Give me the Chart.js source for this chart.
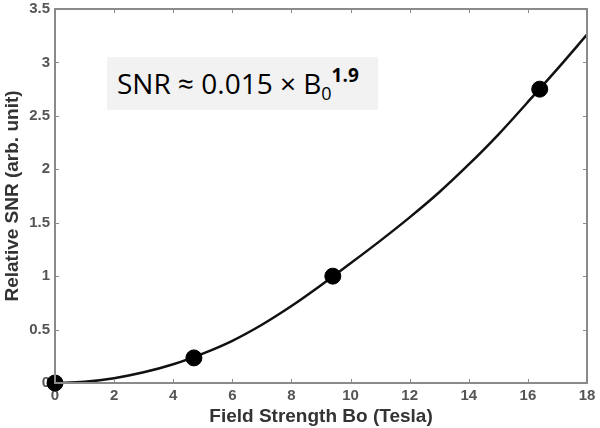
<!DOCTYPE html>
<html>
<head>
<meta charset="utf-8">
<script src="https://cdn.jsdelivr.net/npm/chart.js@4/dist/chart.umd.min.js"></script>
<style>
    html, body { margin: 0; padding: 0; background: #fff; }
    #wrap { position: relative; width: 600px; height: 428px; }
    #formula {
        position: absolute;
        left: 107px; top: 57px;
        width: 271px; height: 53px;
        background: #f2f2f2;
        font-family: "Open Sans", sans-serif;
        font-size: 28px;
        color: #000;
        line-height: 53px;
        padding-left: 10px;
        box-sizing: border-box;
        white-space: nowrap;
    }
    #formula sub { font-size: 18px; vertical-align: -6px; line-height: 0; }
    #formula sup { font-size: 19px; font-weight: bold; vertical-align: 12px; line-height: 0; }
</style>
</head>
<body>
<div id="wrap">
    <canvas id="chart" width="600" height="428"></canvas>
    <div id="formula">SNR ≈ 0.015 × B<sub>0</sub><sup>1.9</sup></div>
</div>
<script>
// fitted curve
const curveField = [0, 1, 2, 3, 4, 5, 6, 7, 8, 9, 10, 11, 12, 13, 14, 15, 16, 17, 18];
const curveSnr = [0, 0.012, 0.045, 0.10, 0.175, 0.275, 0.395, 0.545, 0.72, 0.915, 1.12, 1.33, 1.55, 1.785, 2.045, 2.325, 2.63, 2.94, 3.26];

// measured points
const measuredField = [0, 4.7, 9.4, 16.4];
const measuredSnr = [0, 0.235, 1.0, 2.75];

const axisColor = '#8a8a8a';
const labelColor = '#555';
const labelFont = { family: 'Liberation Sans, Arial', size: 15, weight: 'bold' };
const titleFont = { family: 'Liberation Sans, Arial', size: 19, weight: 'bold' };

// box round the plot with small inward ticks on all four sides
const frameTicks = {
    id: 'frameTicks',
    afterDatasetsDraw(chart) {
        const { ctx, chartArea: a, scales } = chart;
        ctx.save();
        ctx.strokeStyle = axisColor;
        ctx.lineWidth = 2;
        ctx.strokeRect(a.left, a.top, a.right - a.left, a.bottom - a.top);
        ctx.lineWidth = 1;
        const len = 4;
        scales.x.ticks.forEach(t => {
            const px = Math.round(scales.x.getPixelForValue(t.value)) + 0.5;
            ctx.beginPath();
            ctx.moveTo(px, a.bottom); ctx.lineTo(px, a.bottom - len);
            ctx.moveTo(px, a.top); ctx.lineTo(px, a.top + len);
            ctx.stroke();
        });
        scales.y.ticks.forEach(t => {
            const py = Math.round(scales.y.getPixelForValue(t.value)) + 0.5;
            ctx.beginPath();
            ctx.moveTo(a.left, py); ctx.lineTo(a.left + len, py);
            ctx.moveTo(a.right, py); ctx.lineTo(a.right - len, py);
            ctx.stroke();
        });
        ctx.restore();
    }
};

const ctx = document.getElementById('chart').getContext('2d');
new Chart(ctx, {
    type: 'scatter',
    data: {
        datasets: [
            {
                label: 'Measured',
                data: measuredField.map((x, i) => ({ x: x, y: measuredSnr[i] })),
                backgroundColor: '#000',
                borderColor: '#000',
                pointRadius: 8,
                clip: false,
                order: 0
            },
            {
                label: 'Fit',
                data: curveField.map((x, i) => ({ x: x, y: curveSnr[i] })),
                showLine: true,
                borderColor: '#111',
                borderWidth: 2.5,
                pointRadius: 0,
                cubicInterpolationMode: 'monotone',
                order: 1
            }
        ]
    },
    options: {
        responsive: false,
        animation: false,
        layout: { padding: { top: 8, right: 13, left: 0, bottom: 0 } },
        plugins: {
            legend: { display: false },
            tooltip: { enabled: false }
        },
        scales: {
            x: {
                type: 'linear',
                min: 0,
                max: 18,
                afterFit: s => { s.height = 45; s.paddingLeft = 0; s.paddingRight = 0; },
                grid: { drawOnChartArea: false, drawTicks: false },
                border: { display: false },
                ticks: {
                    stepSize: 2,
                    padding: 4,
                    color: labelColor,
                    font: labelFont
                },
                title: {
                    display: true,
                    text: 'Field Strength Bo (Tesla)',
                    color: '#333',
                    padding: { top: 0, bottom: 0 },
                    font: titleFont
                }
            },
            y: {
                min: 0,
                max: 3.5,
                afterFit: s => { s.width = 55; s.paddingTop = 0; s.paddingBottom = 0; },
                grid: { drawOnChartArea: false, drawTicks: false },
                border: { display: false },
                ticks: {
                    stepSize: 0.5,
                    padding: 5,
                    color: labelColor,
                    font: labelFont,
                    callback: v => String(v)
                },
                title: {
                    display: true,
                    text: 'Relative SNR (arb. unit)',
                    color: '#333',
                    padding: { top: 1, bottom: 1 },
                    font: titleFont
                }
            }
        }
    },
    plugins: [frameTicks]
});
</script>
</body>
</html>
